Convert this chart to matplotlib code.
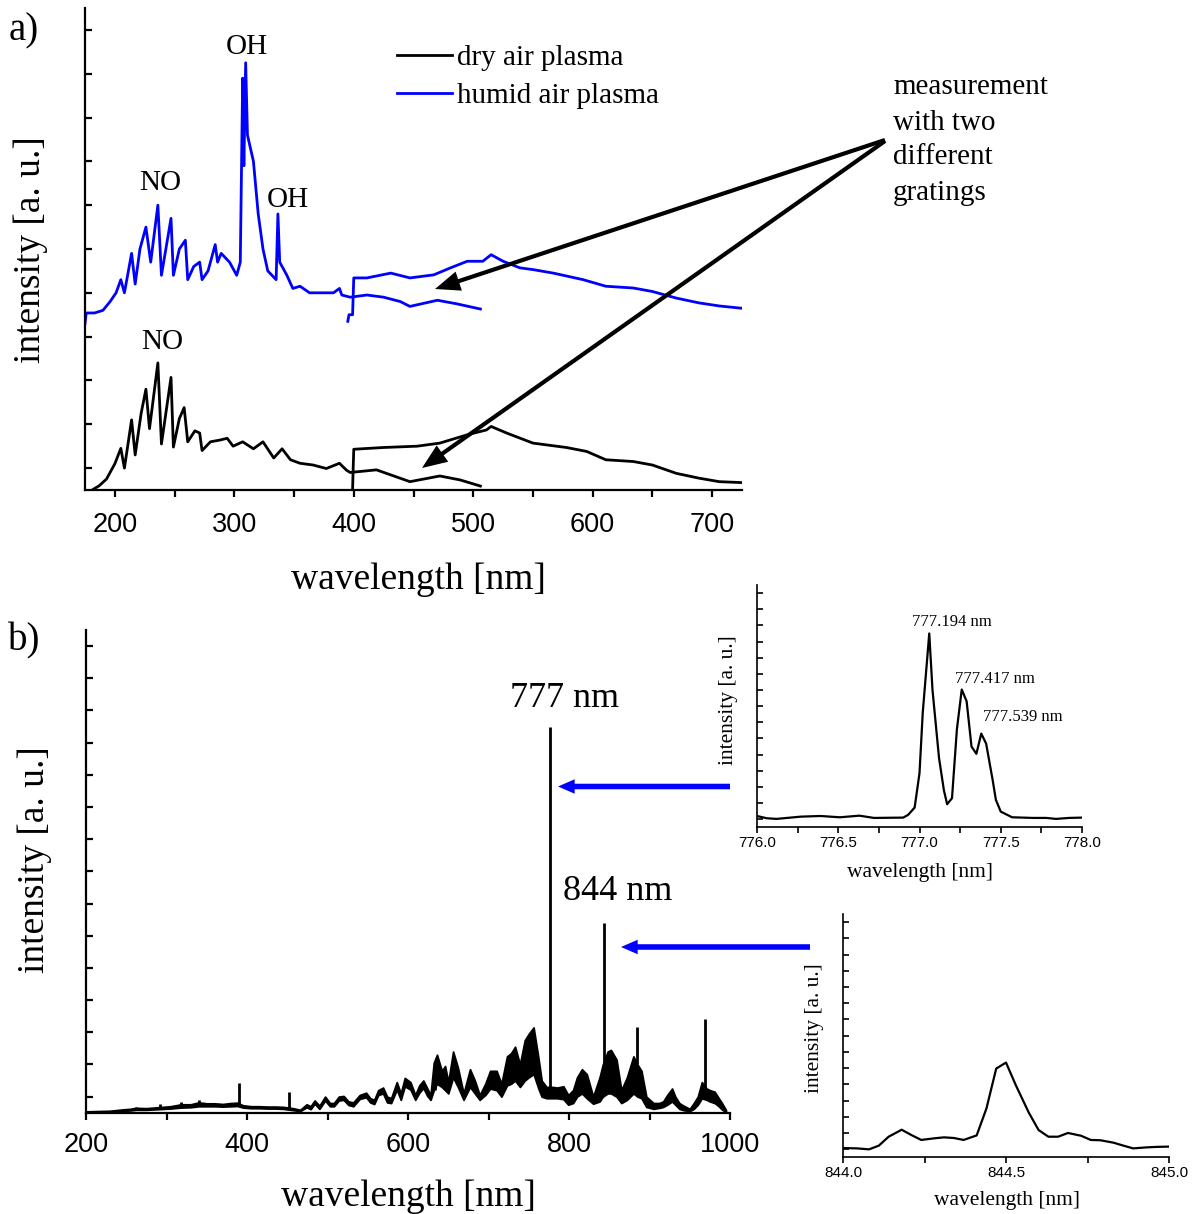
import matplotlib
matplotlib.use("Agg")
import matplotlib.pyplot as plt

# ---------------- data (panel a) ----------------
humid_g1_wl = [175, 176, 183, 190, 196, 201, 205, 208, 214, 217, 221, 226, 230, 236, 239, 247, 249, 254,
               259, 261, 266, 271, 273, 278, 284, 286, 289, 296, 302, 305, 307, 308, 309.5, 311, 316, 320,
               324, 328, 335, 336.5, 338, 344, 349, 355, 363, 372, 383, 388, 390, 397, 411, 425, 439,
               447, 470, 486, 506]
humid_g1_I = [3.8, 4.04, 4.04, 4.1, 4.3, 4.5, 4.8, 4.5, 5.4, 4.7, 5.5, 6.0, 5.2, 6.5, 4.9, 6.2, 4.9, 5.5,
              5.7, 4.8, 5.1, 5.2, 4.8, 5.0, 5.6, 5.2, 5.4, 5.2, 4.9, 5.2, 9.4, 7.4, 9.75, 8.1, 7.5, 6.3,
              5.5, 5.0, 4.8, 6.3, 5.2, 4.9, 4.6, 4.65, 4.5, 4.5, 4.5, 4.6, 4.45, 4.4, 4.45, 4.4, 4.3,
              4.19, 4.33, 4.25, 4.13]
humid_g2_wl = [395, 396, 399, 400, 411, 431, 447, 467, 481, 495, 508, 515, 525, 539, 550, 567, 592, 611,
               634, 650, 670, 689, 706, 724]
humid_g2_I = [3.85, 4.0, 4.0, 4.84, 4.84, 4.95, 4.84, 4.91, 5.07, 5.22, 5.22, 5.37, 5.22, 5.07, 5.03,
              4.95, 4.8, 4.65, 4.61, 4.53, 4.38, 4.27, 4.2, 4.15]
dry_g1_wl = [181, 187, 193, 200, 205, 208, 214, 217, 222, 226, 229, 236, 239, 247, 249, 254, 258, 261,
             267, 271, 273, 280, 288, 294, 299, 307, 316, 324, 333, 340, 347, 355, 366, 377, 388, 394,
             397, 419, 447, 472, 489, 506]
dry_g1_I = [0.0, 0.1, 0.25, 0.6, 0.95, 0.5, 1.6, 0.8, 1.75, 2.3, 1.4, 2.9, 1.05, 2.57, 0.98, 1.63, 1.88,
            1.1, 1.35, 1.3, 0.9, 1.1, 1.14, 1.18, 1.0, 1.1, 0.94, 1.1, 0.73, 0.94, 0.69, 0.61, 0.57,
            0.49, 0.61, 0.45, 0.4, 0.46, 0.19, 0.32, 0.23, 0.09]
dry_g2_wl = [399, 399.5, 400, 425, 453, 472, 495, 511, 515, 528, 550, 578, 595, 611, 634, 650, 670, 689,
             706, 724]
dry_g2_I = [0.0, 0.5, 0.93, 0.97, 1.0, 1.07, 1.26, 1.37, 1.45, 1.3, 1.07, 0.97, 0.88, 0.69, 0.65, 0.57,
            0.38, 0.27, 0.19, 0.17]
xticks_a = [200, 300, 400, 500, 600, 700]

# ---------------- data (panel b) ----------------
b_wl = [200, 215, 230, 245, 255, 262, 275, 290, 305, 318, 330, 340, 350, 360, 370, 380, 388, 395, 405,
        415, 425, 435, 445, 457, 466, 474, 479, 484, 490, 497, 503, 508, 514, 520, 526, 532, 540, 548,
        553, 558, 563, 569, 574, 579, 586, 591, 596, 603, 609, 614, 619, 624, 628, 632, 636, 642, 646,
        650, 656, 662, 669, 677, 683, 689, 696, 702, 710, 716, 723, 728, 733, 739, 745, 750, 756, 762,
        766, 772, 780, 785, 793, 799, 805, 810, 816, 822, 830, 838, 842, 848, 852, 859, 865, 872, 880,
        885, 890, 896, 905, 912, 917, 922, 928, 932, 937, 942, 950, 955, 960, 965, 971, 975, 981, 986,
        990, 995]
b_hi = [0.04, 0.05, 0.06, 0.1, 0.12, 0.15, 0.14, 0.17, 0.2, 0.26, 0.26, 0.32, 0.29, 0.29, 0.27, 0.3, 0.31,
        0.23, 0.2, 0.2, 0.19, 0.19, 0.18, 0.14, 0.09, 0.26, 0.2, 0.38, 0.22, 0.5, 0.3, 0.3, 0.5, 0.52,
        0.35, 0.32, 0.55, 0.62, 0.45, 0.4, 0.7, 0.78, 0.5, 0.45, 0.95, 0.6, 1.08, 0.95, 0.55, 0.85, 1.0,
        0.75, 0.55, 1.55, 1.8, 1.3, 1.45, 0.95, 1.9, 1.4, 0.6, 1.35, 1.0, 0.55, 0.9, 1.3, 1.3, 0.9, 1.75,
        1.85, 2.05, 1.5, 2.25, 2.45, 2.65, 1.7, 1.0, 0.8, 0.8, 0.78, 0.82, 0.55, 0.7, 1.1, 1.35, 1.2, 0.5,
        1.1, 1.5, 1.9, 1.95, 1.65, 0.7, 1.1, 1.75, 1.5, 1.3, 0.5, 0.3, 0.3, 0.35, 0.55, 0.75, 0.5, 0.3,
        0.22, 0.12, 0.3, 0.5, 0.95, 0.75, 0.7, 0.65, 0.45, 0.3, 0.08]
b_lo = [0.01, 0.02, 0.03, 0.06, 0.07, 0.09, 0.09, 0.11, 0.13, 0.16, 0.17, 0.2, 0.2, 0.2, 0.19, 0.2,
        0.21, 0.16, 0.14, 0.14, 0.13, 0.13, 0.12, 0.08, 0.05, 0.17, 0.11, 0.28, 0.12, 0.38, 0.2, 0.2,
        0.38, 0.4, 0.24, 0.2, 0.43, 0.48, 0.32, 0.27, 0.55, 0.6, 0.32, 0.3, 0.72, 0.4, 0.82, 0.72, 0.4,
        0.62, 0.77, 0.52, 0.4, 0.7, 0.9, 0.8, 0.7, 0.6, 1.1, 0.8, 0.4, 0.8, 0.6, 0.4, 0.55, 0.75, 0.7,
        0.5, 0.85, 0.9, 1.0, 0.8, 1.0, 1.1, 1.2, 0.75, 0.5, 0.45, 0.45, 0.45, 0.42, 0.25, 0.3, 0.5, 0.6,
        0.45, 0.28, 0.35, 0.5, 0.6, 0.6, 0.5, 0.3, 0.4, 0.6, 0.5, 0.45, 0.18, 0.12, 0.15, 0.18, 0.25,
        0.35, 0.25, 0.12, 0.08, 0.05, 0.12, 0.25, 0.45, 0.4, 0.35, 0.3, 0.2, 0.1, 0.02]
spike_wl = [262, 292, 318, 340, 390, 452, 633, 777, 844, 884, 969]
spike_top = [0.19, 0.26, 0.33, 0.39, 0.91, 0.65, 1.6, 11.98, 5.9, 2.65, 2.92]
spike_base = [0.1, 0.12, 0.15, 0.2, 0.2, 0.12, 0.7, 0.5, 1.0, 1.5, 0.8]
xticks_b = [200, 400, 600, 800, 1000]

# ---------------- data (insets) ----------------
in1_wl = [776.0, 776.06, 776.12, 776.27, 776.39, 776.51, 776.63, 776.72, 776.90, 776.93, 776.97, 777.00,
          777.02, 777.06, 777.08, 777.12, 777.15, 777.17, 777.20, 777.23, 777.26, 777.29, 777.32, 777.35,
          777.38, 777.41, 777.45, 777.47, 777.50, 777.57, 777.70, 777.78, 777.84, 777.92, 778.0]
in1_I = [0.70, 0.56, 0.52, 0.66, 0.70, 0.62, 0.72, 0.58, 0.60, 0.77, 1.22, 3.35, 7.1, 12.0, 8.5, 4.3,
         2.3, 1.43, 1.8, 6.05, 8.53, 7.8, 5.0, 4.55, 5.8, 5.18, 2.94, 1.7, 0.97, 0.62, 0.58, 0.58, 0.52,
         0.58, 0.6]
in1_labels = ["777.194 nm", "777.417 nm", "777.539 nm"]
in2_wl = [844.0, 844.043, 844.08, 844.11, 844.14, 844.18, 844.21, 844.24, 844.28, 844.31, 844.34, 844.37,
          844.41, 844.44, 844.47, 844.50, 844.53, 844.57, 844.60, 844.63, 844.66, 844.69, 844.73, 844.76,
          844.79, 844.83, 844.86, 844.89, 844.93, 844.96, 845.0]
in2_I = [0.57, 0.55, 0.49, 0.72, 1.27, 1.70, 1.37, 1.07, 1.17, 1.23, 1.19, 1.07, 1.35, 3.01, 5.47, 5.84,
         4.45, 2.75, 1.68, 1.27, 1.27, 1.50, 1.33, 1.07, 1.05, 0.90, 0.72, 0.55, 0.61, 0.64, 0.66]

# ---------------- figure ----------------
W, H = 1193, 1214
plt.rcParams["font.family"] = ["Liberation Sans", "DejaVu Sans"]
SERIF = ["Liberation Serif", "DejaVu Serif"]
fig = plt.figure(figsize=(W / 100, H / 100), dpi=100)
fig.patch.set_facecolor("white")


def axes_px(l, t, r, b):
    ax = fig.add_axes([l / W, 1 - b / H, (r - l) / W, (b - t) / H])
    ax.patch.set_visible(False)
    return ax


def ftext(x, y, s, size, **kw):
    kw.setdefault("ha", "center")
    kw.setdefault("va", "center")
    fig.text(x / W, 1 - y / H, s, fontsize=size, family=SERIF, **kw)


def style(ax, lw, tlen, fs, pad, ymax):
    for s in ["top", "right"]:
        ax.spines[s].set_visible(False)
    for s in ["left", "bottom"]:
        ax.spines[s].set_linewidth(lw)
    ax.set_ylim(0, ymax)
    ax.set_yticks([k + 0.5 for k in range(int(ymax))])
    ax.tick_params(axis="y", which="both", direction="in", length=tlen, width=lw, labelleft=False)
    ax.tick_params(axis="x", which="both", direction="out", length=tlen, width=lw,
                   labelsize=fs, pad=pad)


# panel a
ax_a = axes_px(85, 8, 742, 490)
l_dry, = ax_a.plot(dry_g1_wl, dry_g1_I, color="black", lw=2.0, label="dry air plasma")
ax_a.plot(dry_g2_wl, dry_g2_I, color="black", lw=2.0)
l_hum, = ax_a.plot(humid_g1_wl, humid_g1_I, color="#0000ff", lw=2.0, label="humid air plasma")
ax_a.plot(humid_g2_wl, humid_g2_I, color="#0000ff", lw=2.0)
ax_a.set_xlim(175, 725)
style(ax_a, 1.6, 5, 19.5, 11, 11)
ax_a.set_xticks(xticks_a)
ax_a.set_xticks([250, 350, 450, 550, 650], minor=True)
leg = ax_a.legend(handles=[l_dry, l_hum], loc="upper left", bbox_to_anchor=(397 / W, 1 - 45 / H),
                  bbox_transform=fig.transFigure, frameon=False, borderpad=0, borderaxespad=0,
                  handlelength=1.88, handletextpad=0.17, labelspacing=0.38,
                  prop={"family": SERIF, "size": 21})

# panel b
ax_b = axes_px(86, 630, 730, 1112.7)
ax_b.fill_between(b_wl, b_lo, b_hi, color="black", lw=1.3)
ax_b.vlines(spike_wl, spike_base, spike_top, color="black", lw=2.0)
ax_b.set_xlim(200, 1000)
style(ax_b, 1.6, 5, 19.5, 9, 15)
ax_b.set_xticks(xticks_b)
ax_b.set_xticks([300, 500, 700, 900], minor=True)

# inset 1
ax_i1 = axes_px(757, 585, 1082, 827.3)
ax_i1.plot(in1_wl, in1_I, color="black", lw=1.6)
ax_i1.set_xlim(776, 778)
style(ax_i1, 1.2, 4, 11, 2, 15)
ax_i1.set_xticks([776.0, 776.5, 777.0, 777.5, 778.0])
ax_i1.set_xticks([776.25, 776.75, 777.25, 777.75], minor=True)
ax_i1.xaxis.set_major_formatter(matplotlib.ticker.FormatStrFormatter("%.1f"))

# inset 2
ax_i2 = axes_px(843, 914, 1169, 1157.3)
ax_i2.plot(in2_wl, in2_I, color="black", lw=1.6)
ax_i2.set_xlim(844, 845)
style(ax_i2, 1.2, 4, 11, 2, 15)
ax_i2.set_xticks([844.0, 844.5, 845.0])
ax_i2.set_xticks([844.25, 844.75], minor=True)
ax_i2.xaxis.set_major_formatter(matplotlib.ticker.FormatStrFormatter("%.1f"))

# ---------------- texts ----------------
ftext(24, 31, "a)", 28)
ftext(24, 641, "b)", 28)
ftext(31, 250, "intensity [a. u.]", 27, rotation=90)
ftext(418, 580, "wavelength [nm]", 27)
ftext(35, 860, "intensity [a. u.]", 27, rotation=90)
ftext(408, 1197, "wavelength [nm]", 27)
ftext(247, 47, "OH", 21)
ftext(288, 200, "OH", 21)
ftext(160, 183, "NO", 21)
ftext(162, 342, "NO", 21)
ftext(893, 140, "measurement\nwith two\ndifferent\ngratings", 21, ha="left", linespacing=1.45)
ftext(565, 698, "777 nm", 26)
ftext(618, 891, "844 nm", 26)
ftext(952, 622, in1_labels[0], 12)
ftext(995, 679, in1_labels[1], 12)
ftext(1023, 717, in1_labels[2], 12)
ftext(729, 700, "intensity [a. u.]", 15.5, rotation=90)
ftext(920, 872, "wavelength [nm]", 15.5)
ftext(815, 1028, "intensity [a. u.]", 15.5, rotation=90)
ftext(1007, 1200, "wavelength [nm]", 15.5)

# ---------------- arrows ----------------
def arrow(x0, y0, x1, y1, color, style):
    ax_a.annotate("", xy=(x1, H - y1), xycoords="figure pixels",
                  xytext=(x0, H - y0), textcoords="figure pixels",
                  arrowprops=dict(arrowstyle=style, color=color, lw=0, mutation_scale=20,
                                  shrinkA=0, shrinkB=0),
                  annotation_clip=False, zorder=10)


black_style = "simple,head_length=0.9,head_width=0.72,tail_width=0.15"
blue_style = "simple,head_length=0.6,head_width=0.52,tail_width=0.2"
arrow(885, 140, 435, 289, "black", black_style)
arrow(885, 141, 422, 468, "black", black_style)
arrow(730, 786.5, 558, 786.5, "#0000ff", blue_style)
arrow(810, 947, 621, 947, "#0000ff", blue_style)

fig.savefig("out.png", dpi=100, facecolor="white")
